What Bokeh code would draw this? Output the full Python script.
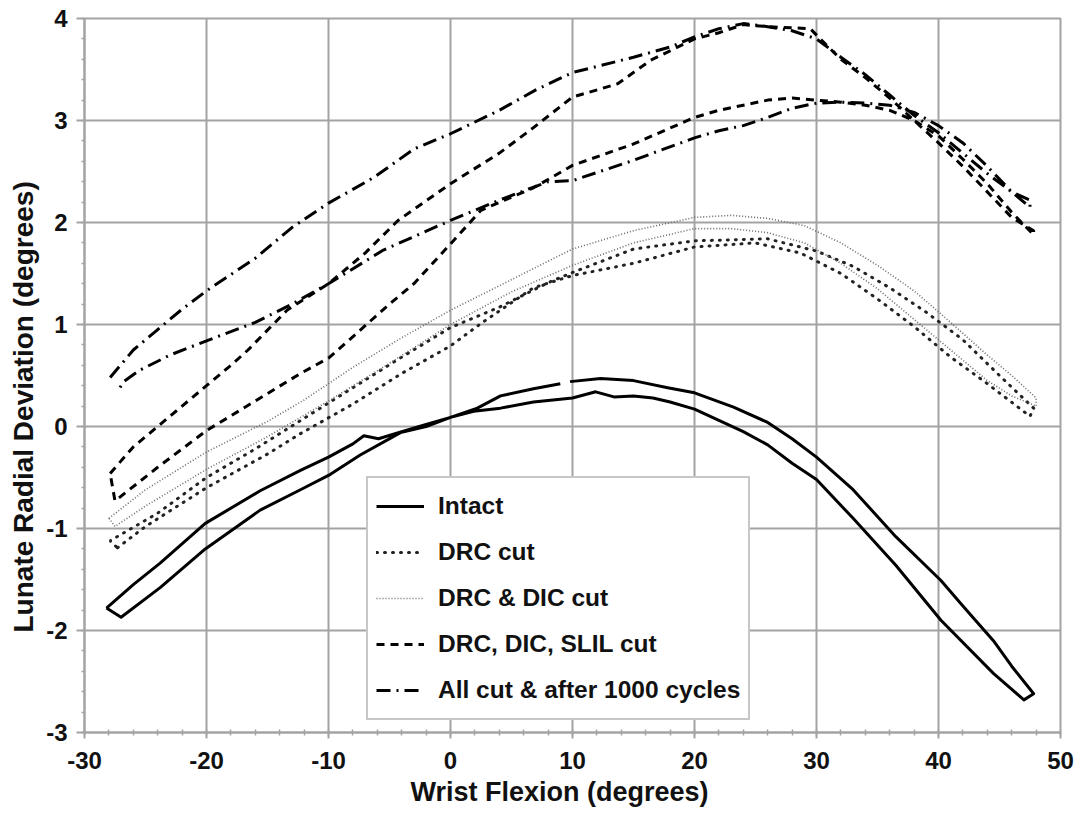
from bokeh.plotting import figure
from bokeh.models import Range1d, FixedTicker, Legend, LegendItem, PrintfTickFormatter, Title
from bokeh.embed import file_html
from bokeh.resources import INLINE

# ---------------- data ----------------
x_ticks = [-30, -20, -10, 0, 10, 20, 30, 40, 50]
y_ticks = [-3, -2, -1, 0, 1, 2, 3, 4]
x_title = "Wrist Flexion (degrees)"
y_title = "Lunate Radial Deviation (degrees)"

# Intact loop
intact_a_x = [-28.2, -26, -23.8, -20.1, -15.6, -12.3, -10, -8, -7.1, -5.9, -4, -2, 0, 1.9, 4.1, 6.8, 10, 11.9,
              13.4, 15, 16.6, 18, 20, 22, 24, 26, 28, 30, 33, 36.5, 40.2, 44.5, 47]
intact_a_y = [-1.78, -1.55, -1.34, -0.95, -0.63, -0.43, -0.30, -0.17, -0.09, -0.12, -0.05, 0.02, 0.09, 0.15, 0.18,
              0.24, 0.28, 0.34, 0.29, 0.30, 0.28, 0.24, 0.17, 0.06, -0.05, -0.18, -0.36, -0.52, -0.90, -1.36,
              -1.90, -2.42, -2.68]
intact_b_x = [47.8, 46, 44.5, 42, 40.2, 36.5, 33, 30, 28, 26, 23.2, 20, 17.8, 15, 12.3, 9.8, float("nan"), 9, 6.8,
              4.1, 2.2, 0, -2, -4.1, -7.4, -10, -12.3, -15.6, -20.1, -23.8, -27, -28.2]
intact_b_y = [-2.62, -2.35, -2.10, -1.76, -1.51, -1.08, -0.62, -0.30, -0.12, 0.04, 0.19, 0.33, 0.38, 0.45, 0.47,
              0.44, float("nan"), 0.42, 0.37, 0.30, 0.18, 0.09, 0.0, -0.06, -0.28, -0.48, -0.62, -0.82, -1.20,
              -1.58, -1.87, -1.78]

# DRC cut loop
drc_a_x = [-27.3, -25, -20, -15, -12.3, -8, -4, 0, 2.5, 6.8, 10, 15, 20, 25, 28.7, 32, 35, 38, 41, 44, 47.5]
drc_a_y = [-1.19, -0.98, -0.60, -0.27, -0.07, 0.22, 0.52, 0.79, 1.01, 1.36, 1.48, 1.60, 1.76, 1.80, 1.70, 1.50,
           1.25, 0.98, 0.68, 0.42, 0.10]
drc_b_x = [47.8, 45, 42, 39, 36, 33, 30, 26, 20, 15, 10, 8, 4, 0, -4, -8, -12, -16, -20, -24, -27.9, -27.3]
drc_b_y = [0.18, 0.50, 0.85, 1.12, 1.36, 1.57, 1.72, 1.84, 1.82, 1.74, 1.51, 1.41, 1.17, 0.97, 0.68, 0.38, 0.08,
           -0.22, -0.50, -0.85, -1.12, -1.19]

# DRC & DIC cut loop
drcdic_a_x = [-28, -25, -20, -15, -12, -8, -4, 0, 4, 8, 10, 15, 20, 23, 26, 29, 32, 35, 38, 41, 44, 46, 48]
drcdic_a_y = [-0.90, -0.62, -0.25, 0.05, 0.26, 0.58, 0.87, 1.14, 1.38, 1.62, 1.74, 1.92, 2.05, 2.07, 2.04, 1.97,
              1.80, 1.58, 1.33, 1.02, 0.70, 0.50, 0.28]
drcdic_b_x = [48, 46, 44, 41, 38, 35, 32, 29, 26, 23, 20, 15, 10, 5, 0, -5, -10, -15, -20, -25, -27.5, -28]
drcdic_b_y = [0.20, 0.30, 0.45, 0.75, 1.05, 1.35, 1.60, 1.80, 1.90, 1.94, 1.94, 1.80, 1.58, 1.32, 1.00, 0.62,
              0.25, -0.10, -0.42, -0.78, -0.98, -0.90]

# DRC, DIC, SLIL cut loop
slil_a_x = [-27.9, -26, -24, -22, -20, -18, -16.6, -13.4, -10, -7, -4.3, 0, 4, 6.8, 10, 12.3, 13.7, 16.4, 20, 22,
            24, 26, 29.5, 30.3, 32, 34, 36, 38, 40, 42, 44, 46, 47.8]
slil_a_y = [-0.46, -0.20, 0.0, 0.20, 0.40, 0.60, 0.75, 1.14, 1.40, 1.70, 2.02, 2.38, 2.68, 2.93, 3.23, 3.31, 3.36,
            3.59, 3.80, 3.86, 3.94, 3.92, 3.90, 3.80, 3.60, 3.42, 3.22, 3.00, 2.78, 2.55, 2.30, 2.05, 1.92]
slil_b_x = [47.8, 46, 44, 42, 40, 38, 36, 34, 32, 30, 28, 26, 24, 22, 20, 15, 10, 6.8, 2.5, 0, -3, -5, -8.2, -10,
            -12.3, -16, -20, -24, -27.5, -27.9]
slil_b_y = [1.88, 2.10, 2.38, 2.62, 2.85, 3.00, 3.10, 3.15, 3.18, 3.20, 3.22, 3.20, 3.15, 3.10, 3.03, 2.77, 2.56,
            2.34, 2.12, 1.79, 1.40, 1.20, 0.86, 0.67, 0.52, 0.25, -0.04, -0.40, -0.73, -0.46]

# All cut & after 1000 cycles loop
allc_a_x = [-27.9, -26, -24, -22, -20, -16, -13, -10, -6.3, -3, 0, 4, 7, 10, 15, 18, 20, 22, 24, 26, 28, 30, 32,
            34, 36, 38, 40, 42, 44, 46, 47.5]
allc_a_y = [0.48, 0.75, 0.95, 1.15, 1.33, 1.65, 1.95, 2.19, 2.44, 2.72, 2.87, 3.10, 3.30, 3.47, 3.62, 3.72, 3.82,
            3.90, 3.95, 3.92, 3.88, 3.80, 3.62, 3.45, 3.25, 3.05, 2.88, 2.68, 2.48, 2.30, 2.22]
allc_b_x = [47.5, 46, 44, 42, 40, 38, 36, 34, 32, 30, 28, 26, 24, 22, 20, 15, 10, 8, 4, 0, -5.5, -10, -13, -16,
            -20, -23, -25.5, -26.8, -27.2]
allc_b_y = [2.15, 2.30, 2.55, 2.78, 2.95, 3.08, 3.15, 3.17, 3.18, 3.17, 3.12, 3.03, 2.95, 2.90, 2.83, 2.61, 2.41,
            2.40, 2.22, 2.02, 1.73, 1.40, 1.20, 1.02, 0.84, 0.70, 0.55, 0.44, 0.36]

series_names = ["Intact", "DRC cut", "DRC & DIC cut", "DRC, DIC, SLIL cut", "All cut & after 1000 cycles"]

# ---------------- figure ----------------
FONT = "Liberation Sans"
GRID = "#a3a3a3"
INK = "#111111"

p = figure(width=1088, height=815, output_backend="svg", toolbar_location=None,
           x_range=Range1d(-30, 50), y_range=Range1d(-3, 4),
           min_border_left=84, min_border_right=28, min_border_top=18, min_border_bottom=83)
p.background_fill_color = "white"
p.border_fill_color = "white"
p.outline_line_color = GRID
p.outline_line_width = 2

p.xaxis.ticker = FixedTicker(ticks=x_ticks, minor_ticks=list(range(-30, 51, 2)))
p.yaxis.ticker = FixedTicker(ticks=y_ticks, minor_ticks=[i / 5 for i in range(-15, 21)])
for ax in (p.xaxis[0], p.yaxis[0]):
    ax.formatter = PrintfTickFormatter(format="%d")
    ax.axis_line_color = GRID
    ax.axis_line_width = 2
    ax.major_tick_line_color = GRID
    ax.major_tick_line_width = 2
    ax.minor_tick_line_color = GRID
    ax.minor_tick_line_width = 1.5
    ax.major_label_text_font = FONT
    ax.major_label_text_font_style = "bold"
    ax.major_label_text_font_size = "24px"
    ax.major_label_text_color = INK

p.xaxis.major_tick_out = 6
p.xaxis.major_tick_in = 0
p.xaxis.minor_tick_out = 3
p.xaxis.minor_tick_in = 3
p.xaxis.major_label_standoff = 13

p.yaxis.major_tick_out = 8
p.yaxis.major_tick_in = 0
p.yaxis.minor_tick_out = 3
p.yaxis.minor_tick_in = 0
p.yaxis.major_label_standoff = 9

# axis titles (as side titles so they can be nudged like in the reference)
t_x = Title(text=x_title, align="left", offset=326, standoff=6,
            text_font=FONT, text_font_style="bold", text_font_size="27px", text_color=INK)
t_y = Title(text=y_title, align="left", offset=100, standoff=10,
            text_font=FONT, text_font_style="bold", text_font_size="28px", text_color=INK)
p.add_layout(t_x, "below")
p.add_layout(t_y, "left")

p.xgrid.ticker = FixedTicker(ticks=x_ticks)
p.ygrid.ticker = FixedTicker(ticks=y_ticks)
p.grid.grid_line_color = GRID
p.grid.grid_line_width = 2

r_intact = p.line(intact_a_x + intact_b_x, intact_a_y + intact_b_y,
                  line_color="black", line_width=3, line_join="round")
r_drc = p.line(drc_a_x + drc_b_x, drc_a_y + drc_b_y,
               line_color="#222222", line_width=3, line_dash="1 7", line_cap="round")
r_drcdic = p.line(drcdic_a_x + drcdic_b_x, drcdic_a_y + drcdic_b_y,
                  line_color="#6a6a6a", line_width=1.6, line_dash="1 2")
r_slil = p.line(slil_a_x + slil_b_x, slil_a_y + slil_b_y,
                line_color="black", line_width=3, line_dash="8 6")
r_allc = p.line(allc_a_x + allc_b_x, allc_a_y + allc_b_y,
                line_color="black", line_width=3, line_dash="14 6 2 6")

renderers = [r_intact, r_drc, r_drcdic, r_slil, r_allc]
legend = Legend(items=[LegendItem(label=n, renderers=[r]) for n, r in zip(series_names, renderers)],
                location=(282, 12), orientation="vertical")
legend.label_text_font = FONT
legend.label_text_font_style = "bold"
legend.label_text_font_size = "24.5px"
legend.label_text_color = INK
legend.glyph_width = 48
legend.glyph_height = 40
legend.label_height = 40
legend.label_standoff = 14
legend.spacing = 6
legend.padding = 8
legend.margin = 0
legend.border_line_color = "#909090"
legend.border_line_width = 2
legend.background_fill_color = "white"
legend.background_fill_alpha = 1.0
p.add_layout(legend, "center")

open("out.html", "w").write(file_html(p, INLINE))
